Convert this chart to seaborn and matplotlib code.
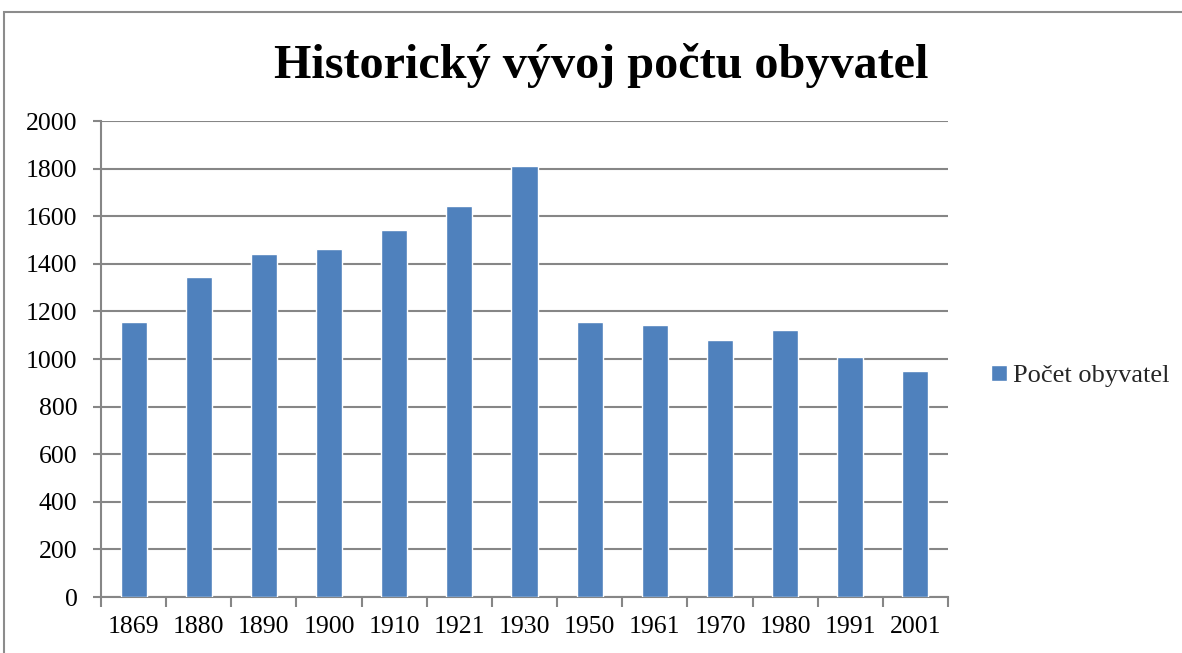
import matplotlib
matplotlib.use("Agg")
import matplotlib.pyplot as plt
import seaborn as sns
import pandas as pd
from matplotlib.patches import Rectangle

years = ["1869", "1880", "1890", "1900", "1910", "1921", "1930",
         "1950", "1961", "1970", "1980", "1991", "2001"]
population = [1154, 1346, 1442, 1462, 1541, 1644, 1813,
              1156, 1143, 1080, 1122, 1008, 951]
series_name = "Počet obyvatel"
title = "Historický vývoj počtu obyvatel"
y_ticks = [0, 200, 400, 600, 800, 1000, 1200, 1400, 1600, 1800, 2000]

sns.set_theme(style="white")
plt.rcParams['font.family'] = ['Liberation Serif', 'DejaVu Serif']

W, H = 1182, 653
fig = plt.figure(figsize=(W / 100, H / 100), dpi=100)
ax = fig.add_axes([101 / W, (H - 597) / H, 847 / W, 476 / H])

df = pd.DataFrame({"year": years, "pop": population})
sns.barplot(data=df, x="year", y="pop", color="#4F81BD", width=0.4,
            saturation=1, ax=ax, label=series_name, zorder=3)

grid_c = "#868686"
ax.set_ylim(0, 2000)
ax.set_xlim(-0.5, len(years) - 0.5)
ax.set_yticks(y_ticks)
ax.set_yticklabels([str(v) for v in y_ticks])
ax.yaxis.grid(True, color=grid_c, linewidth=1.5, zorder=0)
ax.xaxis.grid(False)
ax.set_xlabel("")
ax.set_ylabel("")

for s in ["top", "right"]:
    ax.spines[s].set_visible(False)
for s in ["left", "bottom"]:
    ax.spines[s].set_visible(True)
    ax.spines[s].set_color(grid_c)
    ax.spines[s].set_linewidth(1.5)

ax.tick_params(axis="y", which="major", direction="out", length=6, width=1.5,
               color=grid_c, labelsize=18.5, pad=11, left=True)
ax.tick_params(axis="x", which="major", length=0, labelsize=18.5, pad=14)
ax.set_xticks([i - 0.5 for i in range(len(years) + 1)], minor=True)
ax.tick_params(axis="x", which="minor", direction="out", length=7, width=1.5,
               color=grid_c, bottom=True)
for lab in ax.get_xticklabels() + ax.get_yticklabels():
    lab.set_color("black")

leg = ax.legend(loc="center left", bbox_to_anchor=(967 / W, 1 - 376 / H),
                bbox_transform=fig.transFigure, frameon=False, fontsize=19,
                handlelength=0.6, handleheight=0.6, handletextpad=0.25)

fig.text(601 / W, 1 - 66 / H, title, ha="center", va="center",
         fontsize=34.7, fontweight="bold", color="black")

fig.patches.append(Rectangle((4 / W, -0.1), 1.2, (H - 12) / H + 0.1,
                             transform=fig.transFigure, fill=False,
                             edgecolor="#8c8c8c", linewidth=1.5))

fig.savefig("out.png", dpi=100)
